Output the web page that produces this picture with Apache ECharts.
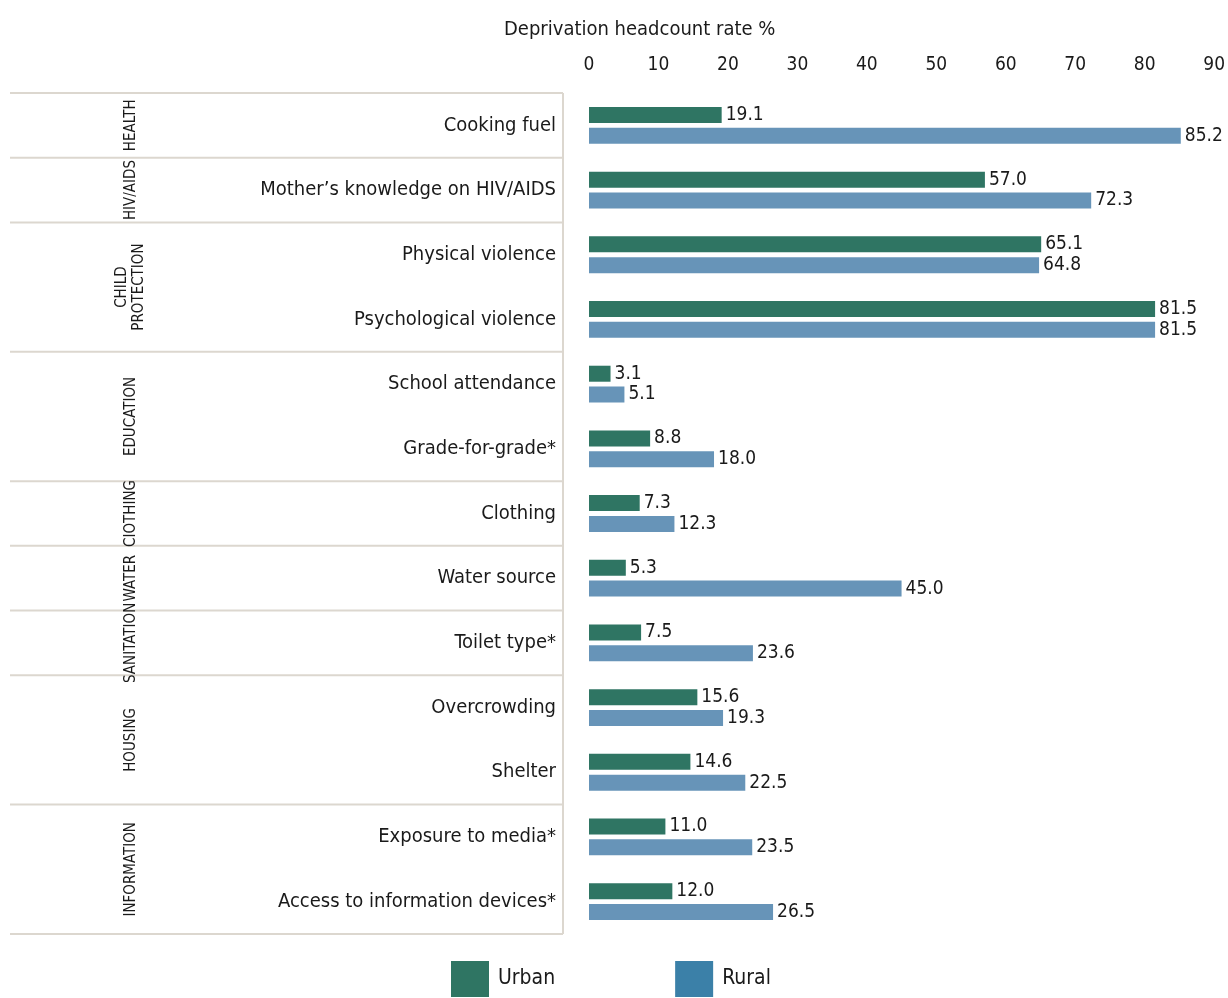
<!DOCTYPE html>
<html lang="en">
<head>
    <meta charset="UTF-8">
    <title>Deprivation headcount rate</title>
    <script type="text/javascript" src="https://cdn.jsdelivr.net/npm/echarts@6/dist/echarts.min.js"></script>
    <style>
        html, body { margin: 0; padding: 0; background: #fff; }
    </style>
</head>
<body>
<div id="main" style="width: 1228px; height: 998px"></div>

<script type="text/javascript">
    // data
    var categories = [
        'Cooking fuel',
        'Mother\u2019s knowledge on HIV/AIDS',
        'Physical violence',
        'Psychological violence',
        'School attendance',
        'Grade-for-grade*',
        'Clothing',
        'Water source',
        'Toilet type*',
        'Overcrowding',
        'Shelter',
        'Exposure to media*',
        'Access to information devices*'
    ];
    var urban = [19.1, 57.0, 65.1, 81.5, 3.1, 8.8, 7.3, 5.3, 7.5, 15.6, 14.6, 11.0, 12.0];
    var rural = [85.2, 72.3, 64.8, 81.5, 5.1, 18.0, 12.3, 45.0, 23.6, 19.3, 22.5, 23.5, 26.5];
    var groupNames = ['HEALTH', 'HIV/AIDS', 'CHILD\nPROTECTION', 'EDUCATION', 'CIOTHING', 'WATER', 'SANITATION', 'HOUSING', 'INFORMATION'];
    var groupSizes = [1, 1, 2, 2, 1, 1, 1, 2, 2];
    var xTicks = [0, 10, 20, 30, 40, 50, 60, 70, 80, 90];

    var FONT = '"DejaVu Sans Condensed", "Liberation Sans Narrow", sans-serif';
    var urbanColor = '#2f7563';
    var ruralColor = '#6794b8';
    var ruralLegend = '#3b80a8';
    var lineColor = '#dcd7cf';

    var myChart = echarts.init(document.getElementById('main'));

    var valueLabel = {
        show: true,
        position: 'right',
        distance: 4,
        color: '#1a1a1a',
        fontFamily: FONT,
        fontSize: 19,
        formatter: function (p) { return p.value.toFixed(1); }
    };

    var option = {
        animation: false,
        backgroundColor: '#fff',
        title: {
            text: 'Deprivation headcount rate %',
            left: 499,
            top: 15,
            textStyle: { fontFamily: FONT, fontSize: 20, fontWeight: 'normal', color: '#1a1a1a' }
        },
        legend: {
            left: 451,
            top: 961,
            padding: 0,
            itemWidth: 38,
            itemHeight: 36,
            itemGap: 120,
            textStyle: { fontFamily: FONT, fontSize: 21, color: '#1a1a1a', padding: [0, 0, 0, 4] },
            data: [
                { name: 'Urban', icon: 'rect', itemStyle: { color: urbanColor } },
                { name: 'Rural', icon: 'rect', itemStyle: { color: ruralLegend } }
            ]
        },
        grid: { left: 589, right: 11, top: 93, bottom: 64 },
        xAxis: {
            type: 'value',
            position: 'top',
            min: xTicks[0],
            max: xTicks[xTicks.length - 1],
            interval: 10,
            axisLine: { show: false },
            axisTick: { show: false },
            splitLine: { show: false },
            axisLabel: { fontFamily: FONT, fontSize: 19, color: '#1a1a1a', margin: 18 }
        },
        yAxis: {
            type: 'category',
            inverse: true,
            data: categories,
            axisLine: { show: false },
            axisTick: { show: false },
            axisLabel: { fontFamily: FONT, fontSize: 20, color: '#1a1a1a', margin: 33 }
        },
        series: [
            {
                name: 'Urban',
                type: 'bar',
                data: urban,
                barWidth: 16,
                barGap: '30%',
                itemStyle: { color: urbanColor, borderWidth: 0 },
                label: valueLabel
            },
            {
                name: 'Rural',
                type: 'bar',
                data: rural,
                barWidth: 16,
                barGap: '30%',
                itemStyle: { color: ruralColor, borderWidth: 0 },
                label: valueLabel
            }
        ]
    };

    myChart.setOption(option);

    // left panel: group separators and rotated group names, placed from the category scale
    var c0 = myChart.convertToPixel({ yAxisIndex: 0 }, categories[0]);
    var c1 = myChart.convertToPixel({ yAxisIndex: 0 }, categories[1]);
    var band = c1 - c0;
    var topY = c0 - band / 2;
    var panelLeft = 10, panelRight = 563, groupX = 131;
    var elements = [];
    var bottomY = topY + band * categories.length;

    elements.push({
        type: 'line',
        shape: { x1: panelLeft, y1: topY, x2: panelRight, y2: topY },
        style: { stroke: lineColor, lineWidth: 2 }
    });
    elements.push({
        type: 'line',
        shape: { x1: panelRight, y1: topY, x2: panelRight, y2: bottomY },
        style: { stroke: lineColor, lineWidth: 2 }
    });

    var start = 0;
    for (var i = 0; i < groupNames.length; i++) {
        var y0 = topY + band * start;
        var y1 = topY + band * (start + groupSizes[i]);
        elements.push({
            type: 'line',
            shape: { x1: panelLeft, y1: y1, x2: panelRight, y2: y1 },
            style: { stroke: lineColor, lineWidth: 2 }
        });
        elements.push({
            type: 'text',
            x: groupX,
            y: (y0 + y1) / 2,
            rotation: Math.PI / 2,
            style: {
                text: groupNames[i],
                fontFamily: FONT,
                fontSize: 15,
                fill: '#1a1a1a',
                align: 'center',
                verticalAlign: 'middle',
                lineHeight: 17
            }
        });
        start += groupSizes[i];
    }

    myChart.setOption({ graphic: elements });
</script>
</body>
</html>
